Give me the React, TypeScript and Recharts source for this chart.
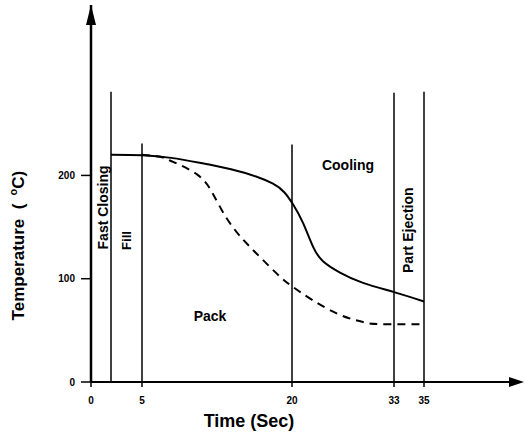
import React from 'react';
import { ComposedChart, Line, XAxis, YAxis, ReferenceLine, ReferenceDot } from 'recharts';

const FONT = '"Liberation Sans", Arial, Helvetica, sans-serif';

// Schematic time axis: tick positions (axis units) and their labels (seconds)
const xTickPos = [0, 5.1, 20.1, 30.3, 33.3];
const xTickLabels = ['0', '5', '20', '33', '35'];
const yTicks = [0, 100, 200];

// Solid curve (melt / centre temperature)
const solidPos = [2.0, 5.1, 8.0, 11.0, 14.0, 16.5, 18.2, 19.3, 20.2, 21.2, 22.2, 23.2, 24.9, 27.2, 30.3, 33.3];
const solidTemp = [220, 219.5, 217, 212, 206, 199, 192, 184, 172, 154, 131, 117, 106, 96, 87, 78];

// Dashed curve (surface temperature)
const dashPos = [5.1, 6.9, 8.0, 10.6, 12.2, 13.6, 15.2, 16.9, 18.9, 20.2, 22.2, 24.9, 27.2, 29.0, 33.3];
const dashTemp = [220, 218, 214, 201, 182, 158, 138, 121, 102, 92, 79, 65, 58, 56, 56];

// Phase boundary lines
const phasePos = [2.0, 5.1, 20.1, 30.3, 33.3];
const phaseTop = [281, 231, 230, 280, 281];

const solidData = solidPos.map((p, i) => ({ pos: p, temp: solidTemp[i] }));
const dashData = dashPos.map((p, i) => ({ pos: p, temp: dashTemp[i] }));

const textStyle = { fontFamily: FONT, fontWeight: 'bold' as const, fill: '#000' };

const makeText = (txt: string, size: number, rotate: boolean, anchor: string = 'middle') => (props: any) => {
  const { cx, cy } = props;
  return (
    <text
      x={cx}
      y={cy}
      fontSize={size}
      textAnchor={anchor}
      transform={rotate ? `rotate(-90, ${cx}, ${cy})` : undefined}
      {...textStyle}
    >
      {txt}
    </text>
  );
};

const YTitle = (props: any) => {
  const { cx, cy } = props;
  return (
    <text x={cx} y={cy} fontSize={17} textAnchor="middle" transform={`rotate(-90, ${cx}, ${cy})`} {...textStyle}>
      Temperature{'\u00A0\u00A0'}(
      <tspan dx={8} dy={-7} fontSize={11}>o</tspan>
      <tspan dy={7}>C)</tspan>
    </text>
  );
};

const XArrow = (props: any) => {
  const { cx, cy } = props;
  return <polygon points={`${cx - 12},${cy - 5} ${cx + 3},${cy} ${cx - 12},${cy + 5}`} fill="#000" />;
};

const YArrow = (props: any) => {
  const { cx, cy } = props;
  return <polygon points={`${cx},${cy} ${cx + 5},${cy + 20} ${cx - 5},${cy + 20}`} fill="#000" />;
};

export default function App() {
  return (
    <div style={{ position: 'absolute', left: 0, top: 0, width: 526, height: 434, background: '#fff' }}>
      <ComposedChart width={526} height={434} margin={{ top: 5, right: 5, left: 0, bottom: 22 }}>
        <XAxis
          type="number"
          dataKey="pos"
          domain={[0, 43]}
          ticks={xTickPos}
          interval={0}
          tickFormatter={(v: number) => xTickLabels[xTickPos.indexOf(v)] ?? ''}
          tick={{ fontSize: 10, ...textStyle }}
          tickSize={5}
          tickMargin={10}
          height={30}
          axisLine={{ stroke: '#000', strokeWidth: 2 }}
          tickLine={{ stroke: '#000', strokeWidth: 1.5 }}
        />
        <YAxis
          type="number"
          dataKey="temp"
          domain={[0, 365]}
          ticks={yTicks}
          interval={0}
          tick={{ fontSize: 10, ...textStyle }}
          tickSize={10}
          tickMargin={6}
          width={91}
          axisLine={{ stroke: '#000', strokeWidth: 2.5 }}
          tickLine={{ stroke: '#000', strokeWidth: 1.5 }}
        />
        {phasePos.map((p, i) => (
          <ReferenceLine
            key={i}
            segment={[{ x: p, y: 0 }, { x: p, y: phaseTop[i] }]}
            stroke="#000"
            strokeWidth={1.5}
            ifOverflow="visible"
          />
        ))}
        <Line
          data={solidData}
          dataKey="temp"
          type="natural"
          stroke="#000"
          strokeWidth={2}
          dot={false}
          isAnimationActive={false}
        />
        <Line
          data={dashData}
          dataKey="temp"
          type="natural"
          stroke="#000"
          strokeWidth={2}
          strokeDasharray="8 6"
          dot={false}
          isAnimationActive={false}
        />
        <ReferenceDot x={43} y={0} r={0} ifOverflow="visible" shape={XArrow} />
        <ReferenceDot x={0} y={365} r={0} ifOverflow="visible" shape={YArrow} />
        <ReferenceDot x={1.7} y={169} r={0} ifOverflow="visible" shape={makeText('Fast Closing', 14, true)} />
        <ReferenceDot x={4.0} y={137} r={0} ifOverflow="visible" shape={makeText('Fill', 13, true)} />
        <ReferenceDot x={11.9} y={59} r={0} ifOverflow="visible" shape={makeText('Pack', 14, false)} />
        <ReferenceDot x={25.7} y={205} r={0} ifOverflow="visible" shape={makeText('Cooling', 14, false)} />
        <ReferenceDot x={32.2} y={147} r={0} ifOverflow="visible" shape={makeText('Part Ejection', 14, true)} />
        <ReferenceDot x={-6.7} y={132} r={0} ifOverflow="visible" shape={YTitle} />
        <ReferenceDot x={15.8} y={-43.6} r={0} ifOverflow="visible" shape={makeText('Time (Sec)', 18, false)} />
      </ComposedChart>
    </div>
  );
}
